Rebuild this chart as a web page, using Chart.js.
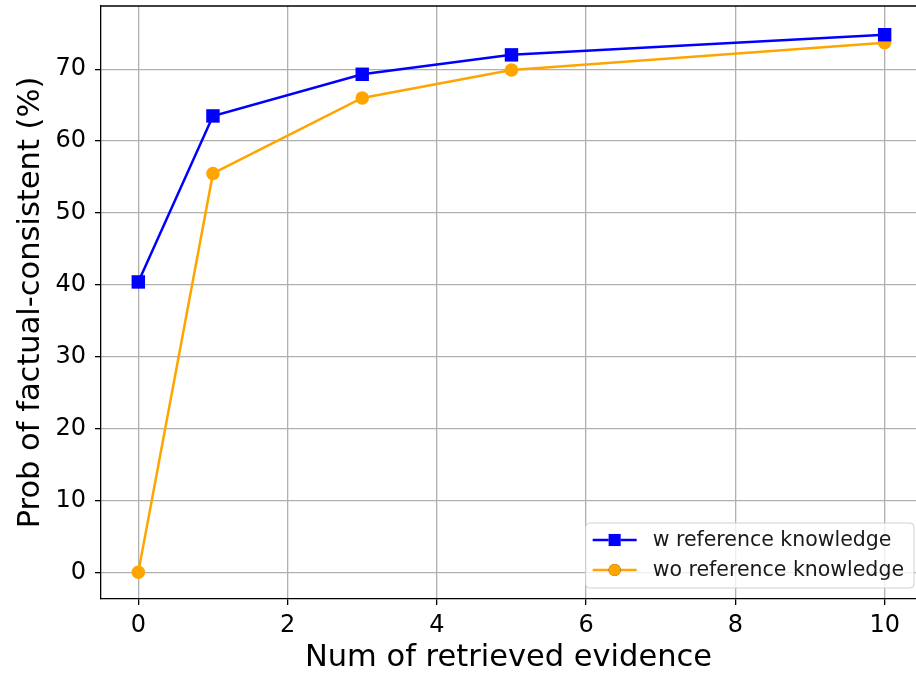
<!DOCTYPE html>
<html>
<head>
<meta charset="utf-8">
<script src="https://cdn.jsdelivr.net/npm/chart.js@4.4.1/dist/chart.umd.min.js"></script>
<style>
  body { margin: 0; background: #fff; }
  #wrap { width: 916px; height: 673px; position: relative; }
</style>
</head>
<body>
<div id="wrap"><canvas id="chart"></canvas></div>
<script>
'use strict';

// data
let evidenceNums = [0, 1, 3, 5, 10];
let withRef = [40.4, 63.5, 69.3, 72.0, 74.8];
let withoutRef = [0, 55.5, 66.0, 69.9, 73.7];
let xTicks = [0, 2, 4, 6, 8, 10];
let yTicks = [0, 10, 20, 30, 40, 50, 60, 70];
let seriesNames = ['w reference knowledge', 'wo reference knowledge'];

let canvasElem = document.getElementById('chart');
let fontFam = '"DejaVu Sans", sans-serif';

function toPoints(xs, ys) {
  return xs.map((x, i) => ({ x: x, y: ys[i] }));
}

// top spine like matplotlib
let topSpine = {
  id: 'topSpine',
  afterDraw(chart) {
    let ctx = chart.ctx;
    let a = chart.chartArea;
    ctx.save();
    ctx.strokeStyle = '#000';
    ctx.lineWidth = 1.3;
    ctx.beginPath();
    ctx.moveTo(a.left, a.top);
    ctx.lineTo(a.right, a.top);
    ctx.stroke();
    ctx.restore();
  }
};

// legend drawn inside the plot, lower right
let innerLegend = {
  id: 'innerLegend',
  afterDraw(chart) {
    let ctx = chart.ctx;
    let a = chart.chartArea;
    let sets = chart.data.datasets;
    ctx.save();
    ctx.font = '20.5px ' + fontFam;
    let textW = Math.max(...sets.map(d => ctx.measureText(d.label).width));
    let rowH = 30;
    let boxW = 7 + 60 + textW + 10;
    let boxH = 65;
    let right = a.right - 2;
    let bottom = a.bottom - 11;
    let left = right - boxW;
    let top = bottom - boxH;

    ctx.fillStyle = 'rgba(255,255,255,0.8)';
    ctx.strokeStyle = '#d0d0d0';
    ctx.lineWidth = 1;
    ctx.beginPath();
    ctx.roundRect(left, top, boxW, boxH, 4);
    ctx.fill();
    ctx.stroke();

    sets.forEach((d, i) => {
      let cy = top + 17 + i * rowH;
      let lx = left + 7;
      ctx.strokeStyle = d.borderColor;
      ctx.lineWidth = 2.5;
      ctx.beginPath();
      ctx.moveTo(lx, cy);
      ctx.lineTo(lx + 44, cy);
      ctx.stroke();
      Chart.helpers.drawPoint(ctx, {
        pointStyle: d.pointStyle,
        radius: d.pointRadius * 0.9,
        borderWidth: 0
      }, lx + 22, cy);
      ctx.fillStyle = d.backgroundColor;
      ctx.fill();
      ctx.fillStyle = '#1a1a1a';
      ctx.textBaseline = 'middle';
      ctx.textAlign = 'left';
      ctx.fillText(d.label, lx + 60, cy + 1);
    });
    ctx.restore();
  }
};

let chartObj = {
  type: 'line',
  data: {
    datasets: [{
      label: seriesNames[0],
      data: toPoints(evidenceNums, withRef),
      borderColor: '#0000ff',
      backgroundColor: '#0000ff',
      borderWidth: 2.5,
      pointStyle: 'rect',
      pointRadius: 9.5,
      pointBorderWidth: 0,
      tension: 0
    },
    {
      label: seriesNames[1],
      data: toPoints(evidenceNums, withoutRef),
      borderColor: '#ffa500',
      backgroundColor: '#ffa500',
      borderWidth: 2.5,
      pointStyle: 'circle',
      pointRadius: 6.8,
      pointBorderWidth: 0,
      tension: 0
    }]
  },
  options: {
    responsive: true,
    maintainAspectRatio: false,
    animation: false,
    layout: { autoPadding: false, padding: { top: 6, right: 0, left: 0, bottom: 0 } },
    scales: {
      x: {
        type: 'linear',
        min: -0.5,
        max: 10.42,
        afterBuildTicks: s => { s.ticks = xTicks.map(v => ({ value: v })); },
        afterFit: s => {
          s.height = 74;
          s.paddingLeft = 0;
          s.paddingRight = 0;
        },
        grid: { color: '#b0b0b0', lineWidth: 1.3, tickColor: '#000', tickLength: 6 },
        border: { color: '#000', width: 1.3 },
        ticks: { color: '#000', font: { family: fontFam, size: 24 }, padding: 6, maxRotation: 0 },
        title: {
          display: true,
          text: 'Num of retrieved evidence',
          color: '#000',
          font: { family: fontFam, size: 30.5, lineHeight: 1 },
          padding: { top: 0, bottom: 0 }
        }
      },
      y: {
        min: -3.72,
        max: 78.8,
        afterBuildTicks: s => { s.ticks = yTicks.map(v => ({ value: v })); },
        afterFit: s => {
          s.width = 101;
          s.paddingTop = 0;
          s.paddingBottom = 0;
        },
        grid: { color: '#b0b0b0', lineWidth: 1.3, tickColor: '#000', tickLength: 6 },
        border: { color: '#000', width: 1.3 },
        ticks: { color: '#000', font: { family: fontFam, size: 24 }, padding: 9 },
        title: {
          display: true,
          text: 'Prob of factual-consistent (%)',
          color: '#000',
          font: { family: fontFam, size: 30.5, lineHeight: 1 },
          padding: { top: 16, bottom: 0 }
        }
      }
    },
    plugins: {
      legend: { display: false },
      tooltip: { enabled: false }
    }
  },
  plugins: [topSpine, innerLegend]
};

new Chart(canvasElem, chartObj);
</script>
</body>
</html>
